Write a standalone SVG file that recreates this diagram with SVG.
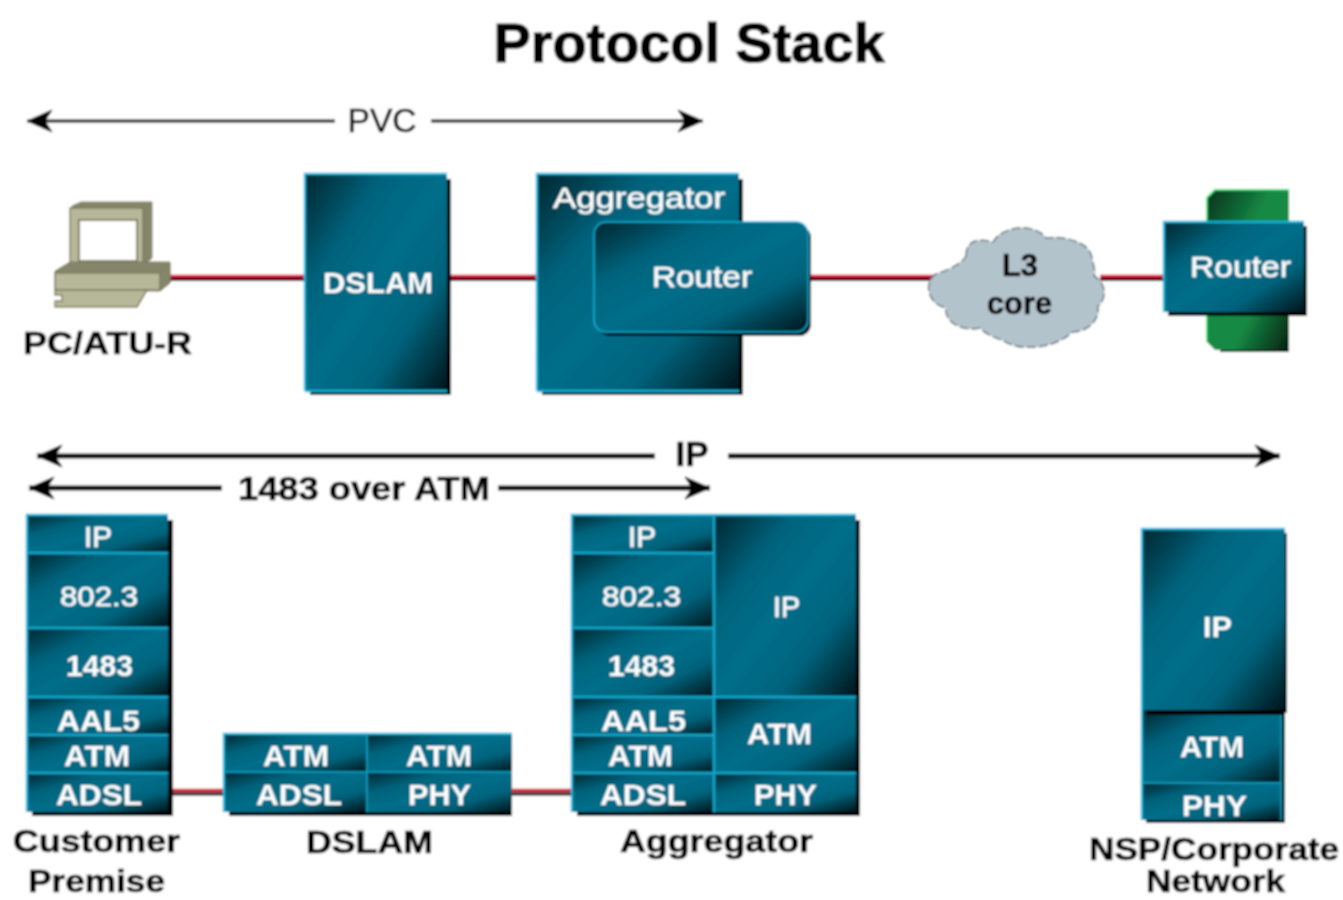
<svg xmlns="http://www.w3.org/2000/svg" width="1343" height="900" viewBox="0 0 1343 900">
<style>
text{font-family:"Liberation Sans",Arial,sans-serif;text-anchor:middle}
.w{fill:#fff;font-weight:bold;font-size:30px}
.wn{fill:#fff;font-size:30px;stroke:#fff;stroke-width:.5px}
.k{fill:#000;font-size:31px;font-weight:bold;stroke:#000;stroke-width:.6px}
.sh{fill:#000}
.box{fill:url(#teal)}
.grn{fill:url(#green)}
.edge{fill:none;stroke:#15b0d6;stroke-width:2.5}
.sep{fill:none;stroke:#12a6cb;stroke-width:2.5}
.thin{stroke:#000;stroke-width:3;fill:none}
.thick{stroke:#000;stroke-width:5;fill:none}
.red{stroke:#d0102e;stroke-width:3.500;fill:none}
.blk{stroke:#000;stroke-width:3;fill:none}
.pc1{fill:#b7b799;stroke:#7c7c62;stroke-width:1.5}
.pc2{fill:#85856b;stroke:#7c7c62;stroke-width:1}
</style>
<defs>
<linearGradient id="teal" x1="0" y1="0" x2="1" y2="1">
<stop offset="0" stop-color="#00252f"/><stop offset=".28" stop-color="#00637c"/><stop offset=".5" stop-color="#006e8a"/><stop offset=".72" stop-color="#00637c"/><stop offset="1" stop-color="#00141a"/>
</linearGradient>
<linearGradient id="green" x1="0" y1="0" x2="1" y2="1">
<stop offset="0" stop-color="#05301c"/><stop offset=".4" stop-color="#158a45"/><stop offset=".65" stop-color="#158a45"/><stop offset="1" stop-color="#03200f"/>
</linearGradient>
<marker id="ah" markerUnits="userSpaceOnUse" markerWidth="34" markerHeight="26" refX="30" refY="13" orient="auto-start-reverse">
<path d="M30 13L5 2L12 13L5 24Z" fill="#000" stroke="#000"/>
</marker>
<filter id="soft" filterUnits="userSpaceOnUse" x="0" y="0" width="1343" height="900"><feGaussianBlur stdDeviation="0.8"/></filter>
</defs>
<g filter="url(#soft)">
<rect width="1343" height="900" fill="#fff"/>
<text id="title" x="689" y="62" font-size="56" font-weight="bold" fill="#000" stroke="#000" stroke-width="1.2" textLength="391" lengthAdjust="spacingAndGlyphs">Protocol Stack</text>

<g id="connectors">
<path class="blk" d="M170 279.500H305M447 279.500H537M808 279.500H935M1100 279.500H1164M173 794H224M512 794H572"/>
<path class="red" d="M170 276.500H305M447 276.500H537M808 276.500H935M1100 276.500H1164M173 790.500H224M512 790.500H572"/>
<path class="thin" marker-start="url(#ah)" d="M27 121H335"/>
<path class="thin" marker-end="url(#ah)" d="M431 121H703"/>
<path class="thick" marker-start="url(#ah)" d="M37 456H655"/>
<path class="thick" marker-end="url(#ah)" d="M728 456H1280"/>
<path class="thick" marker-start="url(#ah)" d="M29 488H222"/>
<path class="thick" marker-end="url(#ah)" d="M498 488H710"/>
</g>
<text id="label-pvc" class="k" style="font-weight:normal;font-size:33px" x="382" y="132" textLength="69" lengthAdjust="spacingAndGlyphs">PVC</text>
<text id="label-ip" class="k" style="font-size:35px" x="692" y="466" textLength="33" lengthAdjust="spacingAndGlyphs">IP</text>
<text id="label-1483" class="k" style="font-size:34px" x="364" y="500" textLength="252" lengthAdjust="spacingAndGlyphs">1483 over ATM</text>

<g id="pc">
<path class="pc2" d="M72 206L81 202H152V258L143 266H72Z"/>
<path class="pc1" d="M70 208H143V268H70Z"/>
<rect x="79" y="220" width="58" height="41" fill="#fff" stroke="#7c7c62" stroke-width="2"/>
<path class="pc2" d="M55 271L70 262H170V283L160 291H55Z"/>
<path class="pc1" d="M55 273H160V290H55Z"/>
<path class="pc1" d="M55 290H147L137 307H55V301H62V295H55Z"/>
<path class="pc2" d="M160 273L170 263V283L160 291Z"/>
</g>
<text id="label-pc" class="k" x="107.500" y="354" textLength="169" lengthAdjust="spacingAndGlyphs">PC/ATU-R</text>

<g id="dslam">
<rect class="sh" x="310" y="179" width="141" height="216"/>
<rect class="box" x="305" y="174" width="142" height="217"/>
<path class="edge" d="M305 391V174H447M305 391H447"/>
<text class="w" x="378" y="293" textLength="110" lengthAdjust="spacingAndGlyphs">DSLAM</text>
</g>

<g id="aggregator">
<rect class="sh" x="542" y="179" width="201" height="216"/>
<rect class="box" x="537" y="174" width="202" height="217"/>
<path class="edge" d="M537 391V174H739M537 391H739"/>
<text class="wn" x="639" y="208" textLength="172" lengthAdjust="spacingAndGlyphs">Aggregator</text>
<rect class="sh" x="598" y="226" width="213" height="110" rx="12"/>
<rect class="box" x="594" y="222" width="214" height="110" rx="12"/>
<rect class="edge" style="stroke-width:1.500" x="594" y="222" width="214" height="110" rx="12"/>
<text class="wn" x="702" y="287" textLength="100" lengthAdjust="spacingAndGlyphs">Router</text>
</g>

<g id="cloud">
<path d="M966 256C966 240 978 238 993 242C1002 226 1034 222 1046 238C1060 236 1090 240 1092 258C1094 268 1096 272 1094 276C1108 284 1106 300 1098 306C1100 322 1086 332 1072 332C1060 346 1022 354 1002 340C988 336 982 330 980 328C962 332 944 322 946 308C926 304 924 280 936 274C948 270 962 264 966 256Z" fill="#b3c3cc" stroke="#5f6f76" stroke-width="1.500" stroke-dasharray="9 3"/>
<text class="k" x="1020" y="276" textLength="36" lengthAdjust="spacingAndGlyphs">L3</text>
<text class="k" x="1019.500" y="314" textLength="65" lengthAdjust="spacingAndGlyphs">core</text>
</g>

<g id="router-right">
<path class="sh" d="M1220 194H1289V352H1220Z"/>
<path class="grn" d="M1207 198L1215 190H1289V350H1215L1207 342Z"/>
<path class="edge" style="stroke:#1fd06a;stroke-width:2" d="M1207 342V198L1215 190H1289"/>
<rect class="sh" x="1168" y="226" width="139" height="90"/>
<rect class="box" x="1164" y="222" width="140" height="90"/>
<path class="edge" d="M1164 312V222H1304"/>
<text class="wn" x="1240.500" y="277" textLength="101" lengthAdjust="spacingAndGlyphs">Router</text>
</g>

<g id="stack-customer">
<rect class="sh" x="32" y="520" width="141" height="296"/>
<rect class="box" x="27" y="515" width="141" height="38"/>
<rect class="box" x="27" y="553" width="141" height="75"/>
<rect class="box" x="27" y="628" width="141" height="69"/>
<rect class="box" x="27" y="697" width="141" height="38"/>
<rect class="box" x="27" y="735" width="141" height="38"/>
<rect class="box" x="27" y="773" width="141" height="39"/>
<path class="edge" d="M27 812V515H168"/>
<path class="sep" d="M27 553H168M27 628H168M27 697H168M27 735H168M27 773H168"/>
<text class="wn" x="98" y="547" textLength="28" lengthAdjust="spacingAndGlyphs">IP</text>
<text class="wn" style="font-size:28px" x="99" y="606" textLength="78" lengthAdjust="spacingAndGlyphs">802.3</text>
<text class="w" x="99.500" y="676" textLength="67" lengthAdjust="spacingAndGlyphs">1483</text>
<text class="w" x="98.500" y="731" textLength="83" lengthAdjust="spacingAndGlyphs">AAL5</text>
<text class="w" x="97" y="766" textLength="66" lengthAdjust="spacingAndGlyphs">ATM</text>
<text class="w" x="99" y="805" textLength="86" lengthAdjust="spacingAndGlyphs">ADSL</text>
</g>
<text id="label-customer" class="k" x="96.500" y="852" textLength="167" lengthAdjust="spacingAndGlyphs">Customer</text>
<text id="label-premise" class="k" x="96.500" y="892" textLength="137" lengthAdjust="spacingAndGlyphs">Premise</text>

<g id="stack-dslam">
<rect class="sh" x="229" y="739" width="283" height="77"/>
<rect class="box" x="224" y="734" width="143" height="38"/>
<rect class="box" x="367" y="734" width="145" height="38"/>
<rect class="box" x="224" y="772" width="143" height="40"/>
<rect class="box" x="367" y="772" width="145" height="40"/>
<path class="edge" d="M224 812V734H512"/>
<path class="sep" style="stroke-width:1.500" d="M367 734V812M224 772H512"/>
<text class="w" x="296" y="766" textLength="66" lengthAdjust="spacingAndGlyphs">ATM</text>
<text class="w" x="439" y="766" textLength="66" lengthAdjust="spacingAndGlyphs">ATM</text>
<text class="w" x="299" y="805" textLength="86" lengthAdjust="spacingAndGlyphs">ADSL</text>
<text class="w" x="439.500" y="805" textLength="63" lengthAdjust="spacingAndGlyphs">PHY</text>
</g>
<text id="label-dslam" class="k" x="369.500" y="853" textLength="127" lengthAdjust="spacingAndGlyphs">DSLAM</text>

<g id="stack-aggregator">
<rect class="sh" x="577" y="520" width="283" height="296"/>
<rect class="box" x="572" y="515" width="142" height="38"/>
<rect class="box" x="572" y="553" width="142" height="75"/>
<rect class="box" x="572" y="628" width="142" height="69"/>
<rect class="box" x="572" y="697" width="142" height="38"/>
<rect class="box" x="572" y="735" width="142" height="38"/>
<rect class="box" x="572" y="773" width="142" height="39"/>
<rect class="box" x="714" y="515" width="142" height="182"/>
<rect class="box" x="714" y="697" width="142" height="76"/>
<rect class="box" x="714" y="773" width="142" height="39"/>
<path class="edge" d="M572 812V515H856"/>
<path class="sep" d="M714 515V812M572 553H714M572 628H714M572 697H856M572 735H714M572 773H856"/>
<text class="wn" x="642" y="547" textLength="28" lengthAdjust="spacingAndGlyphs">IP</text>
<text class="wn" style="font-size:28px" x="641.500" y="606" textLength="79" lengthAdjust="spacingAndGlyphs">802.3</text>
<text class="w" x="641.500" y="676" textLength="67" lengthAdjust="spacingAndGlyphs">1483</text>
<text class="w" x="643.500" y="731" textLength="85" lengthAdjust="spacingAndGlyphs">AAL5</text>
<text class="w" x="640.500" y="766" textLength="65" lengthAdjust="spacingAndGlyphs">ATM</text>
<text class="w" x="643" y="805" textLength="86" lengthAdjust="spacingAndGlyphs">ADSL</text>
<text class="wn" x="786.500" y="617" textLength="27" lengthAdjust="spacingAndGlyphs">IP</text>
<text class="w" x="779.500" y="744" textLength="65" lengthAdjust="spacingAndGlyphs">ATM</text>
<text class="w" x="785.500" y="805" textLength="63" lengthAdjust="spacingAndGlyphs">PHY</text>
</g>
<text id="label-aggregator" class="k" x="716.500" y="852" textLength="193" lengthAdjust="spacingAndGlyphs">Aggregator</text>

<g id="stack-nsp">
<rect class="sh" x="1147" y="533" width="140" height="180"/>
<rect class="box" x="1142" y="529" width="143" height="181"/>
<rect class="sh" x="1281" y="710" width="4" height="113"/>
<rect class="sh" x="1146" y="820" width="139" height="3"/>
<rect class="box" x="1142" y="710" width="139" height="73"/>
<rect class="box" x="1142" y="783" width="139" height="37"/>
<rect class="sh" x="1147" y="710" width="138" height="5"/>
<path class="edge" stroke-width="2" d="M1142 820V529H1285"/>
<path class="sep" style="stroke-width:1.500" d="M1142 783H1281M1281 715V820"/>
<text class="w" x="1217.500" y="637" textLength="29" lengthAdjust="spacingAndGlyphs">IP</text>
<text class="w" x="1212" y="757" textLength="64" lengthAdjust="spacingAndGlyphs">ATM</text>
<text class="w" x="1214.500" y="816" textLength="65" lengthAdjust="spacingAndGlyphs">PHY</text>
</g>
<text id="label-nsp" class="k" x="1214" y="860" textLength="250" lengthAdjust="spacingAndGlyphs">NSP/Corporate</text>
<text id="label-network" class="k" x="1215.500" y="892" textLength="139" lengthAdjust="spacingAndGlyphs">Network</text>
</g>
</svg>
